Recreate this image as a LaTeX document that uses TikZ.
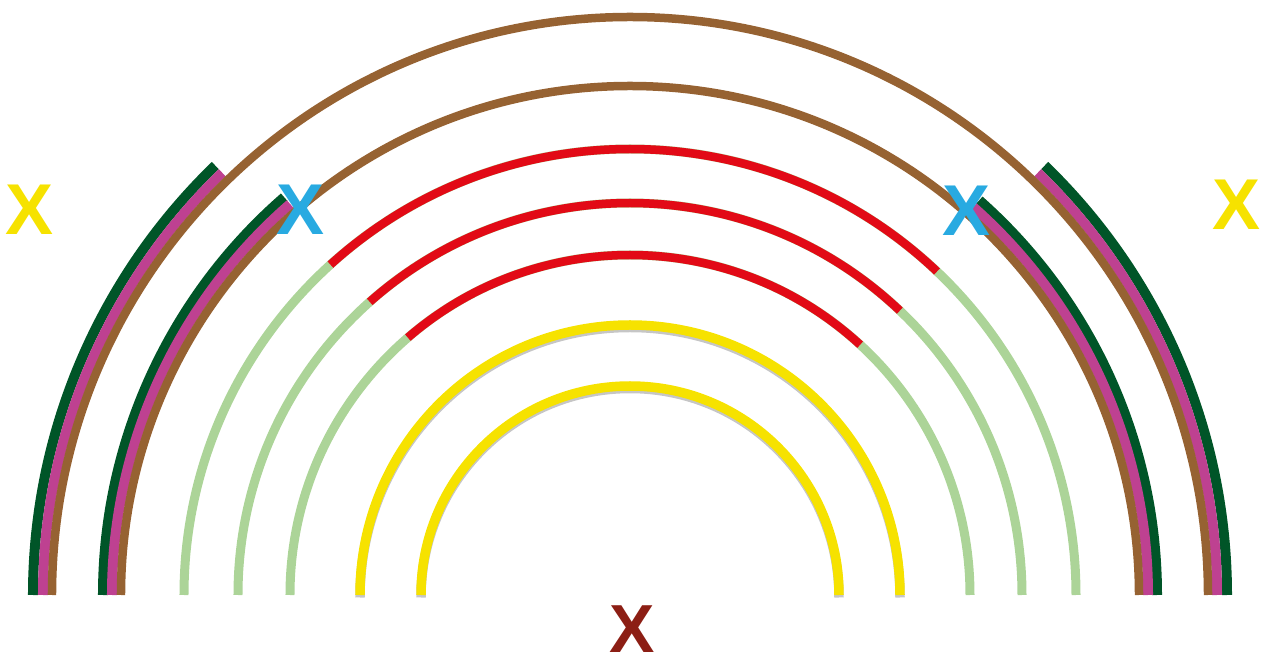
\documentclass[tikz,border=0pt]{standalone}
\usepackage{fontspec}
\newfontfamily\markfont{Liberation Sans}
\definecolor{arcbrown}{RGB}{150,98,50}
\definecolor{arcpink}{RGB}{190,65,145}
\definecolor{arcgreen}{RGB}{0,85,40}
\definecolor{palegreen}{RGB}{172,212,152}
\definecolor{arcred}{RGB}{226,10,22}
\definecolor{arcyellow}{RGB}{246,226,0}
\definecolor{markblue}{RGB}{40,170,225}
\definecolor{markred}{RGB}{140,30,20}
\tikzset{
  brownarc/.style={draw=arcbrown,line width=8.5pt},
  pinkband/.style={draw=arcpink,line width=10pt},
  greenband/.style={draw=arcgreen,line width=10pt},
  paleline/.style={draw=palegreen,line width=9pt},
  redline/.style={draw=arcred,line width=8.5pt},
  yellowarc/.style={draw=arcyellow,line width=9.5pt},
  yshadow/.style={draw=black!50,line width=9.5pt,opacity=0.45},
  xmark/.style={inner sep=0pt,font=\markfont\bfseries\fontsize{72}{72}\selectfont}
}

\begin{document}
\begin{tikzpicture}[x=1pt,y=1pt]
  \useasboundingbox (-630,-71) rectangle (635,595);
  % coloured bands on the sides of the two brown arcs
  \foreach \r/\sty/\lo/\hi in {597/greenband/46/134, 587/pinkband/46/134,
                               527/greenband/48.5/131, 518/pinkband/48.5/131}{
    \draw[\sty] (0:\r pt) arc[start angle=0,end angle=\lo,radius=\r pt];
    \draw[\sty] (\hi:\r pt) arc[start angle=\hi,end angle=180,radius=\r pt];
  }
  \foreach \r in {578,509}
    \draw[brownarc] (0:\r pt) arc[start angle=0,end angle=180,radius=\r pt];
  % pale arcs with red tops
  \foreach \r/\lo/\hi in {446/46.5/132.2, 392/46.5/131.6, 340/47.4/130.8}{
    \draw[paleline] (0:\r pt) arc[start angle=0,end angle=180,radius=\r pt];
    \draw[redline] (\lo:\r pt) arc[start angle=\lo,end angle=\hi,radius=\r pt];
  }
  % yellow arcs
  \foreach \r in {270,209}{
    \draw[yshadow,yshift=-2.5pt] (0:\r pt) arc[start angle=0,end angle=180,radius=\r pt];
    \draw[yellowarc] (0:\r pt) arc[start angle=0,end angle=180,radius=\r pt];
  }
  % marks
  \node[xmark,text=arcyellow] (yleft) at (-600,385) {X};
  \node[xmark,text=arcyellow] (yright) at (607,390) {X};
  \node[xmark,text=markblue] (bleft) at (-329,385) {X};
  \node[xmark,text=markblue] (bright) at (337,384) {X};
  \node[xmark,text=markred,font=\markfont\bfseries\fontsize{68}{68}\selectfont] (bottom) at (2,-34) {X};
\end{tikzpicture}
\end{document}
